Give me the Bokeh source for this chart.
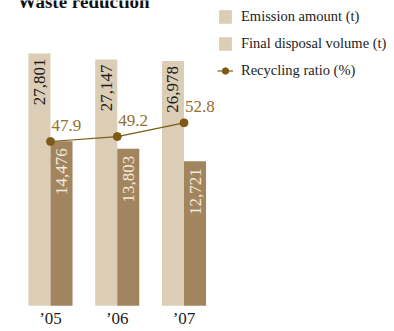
import numpy as np
from bokeh.plotting import figure
from bokeh.models import Range1d, ColumnDataSource, Legend, LegendItem, Label
from bokeh.core.properties import value
from bokeh.embed import file_html
from bokeh.resources import INLINE

# ---- data ----
years = ["\u201905", "\u201906", "\u201907"]
emission = [27801, 27147, 26978]          # Emission amount (t)
disposal = [14476, 13803, 12721]          # Final disposal volume (t)
recycling = [47.9, 49.2, 52.8]            # Recycling ratio (%)

LIGHT = "#DCCDB6"
DARK = "#A2855E"
LINE = "#7E5A16"
LTEXT = "#936E2C"
FONT = "Liberation Serif"

idx = np.arange(len(years), dtype=float)
bw = 0.33

src = ColumnDataSource(dict(
    idx=idx,
    xl=idx - bw / 2,
    xd=idx + bw / 2,
    emission=emission,
    disposal=disposal,
    recycling=recycling,
    years=years,
    el=[f"{v:,}" for v in emission],
    dl=[f"{v:,}" for v in disposal],
    rl=[f"{v:.1f}" for v in recycling],
))

W, H = 394, 331
unit = 66.75
x0 = -50 / unit
k1 = 0.009075   # px per t (emission)
k2 = 0.01137    # px per t (disposal)
k3 = 3.816      # px per %
base = 305.3
zero3 = 323.8

p = figure(width=W, height=H, output_backend="svg", toolbar_location=None,
           x_range=Range1d(x0, x0 + W / unit),
           y_range=Range1d(-(H - base) / k1, base / k1),
           min_border=0, outline_line_color=None)
p.extra_y_ranges = {
    "dark": Range1d(-(H - base) / k2, base / k2),
    "ratio": Range1d(-(H - zero3) / k3, zero3 / k3),
}
p.axis.visible = False
p.grid.visible = False
p.background_fill_color = "white"
p.border_fill_color = "white"

r_light = p.vbar(x="xl", top="emission", bottom=0, width=bw, source=src,
                 fill_color=LIGHT, line_color=None)
r_dark = p.vbar(x="xd", top="disposal", bottom=0, width=bw, source=src,
                fill_color=DARK, line_color=None, y_range_name="dark")

# bar labels (rotated)
p.text(x="xl", y="emission", text="el", source=src, angle=np.pi / 2,
       text_align="right", text_baseline="middle", y_offset=5,
       text_font=value(FONT), text_font_size="17px", text_color="#1c1c1c")
p.text(x="xd", y="disposal", text="dl", source=src, angle=np.pi / 2,
       text_align="right", text_baseline="middle", y_offset=7,
       text_font=value(FONT), text_font_size="17px", text_color="#F2EADC",
       y_range_name="dark")

# recycling line
r_line = p.line(x="idx", y="recycling", source=src, line_color=LINE,
                line_width=1.2, y_range_name="ratio")
r_dot = p.scatter(x="idx", y="recycling", source=src, size=8,
                  fill_color=LINE, line_color=LINE, y_range_name="ratio")
p.text(x="idx", y="recycling", text="rl", source=src, x_offset=1, y_offset=-16,
       text_align="left", text_baseline="alphabetic",
       text_font=value(FONT), text_font_size="17px", text_color=LTEXT,
       y_range_name="ratio")

# year labels
p.text(x="idx", y=0, text="years", source=src, y_offset=13,
       text_align="center", text_baseline="alphabetic",
       text_font=value(FONT), text_font_size="17px", text_color="#1c1c1c")

# title (cut off at top as in the reference)
p.add_layout(Label(x=17, y=H - 1, x_units="screen", y_units="screen",
                   text="Waste reduction", text_font=FONT,
                   text_font_style="bold", text_font_size="19px",
                   text_color="#111111", text_baseline="alphabetic"))

legend = Legend(items=[
    LegendItem(label="Emission amount (t)", renderers=[r_light]),
    LegendItem(label="Final disposal volume (t)", renderers=[r_light]),
    LegendItem(label="Recycling ratio (%)", renderers=[r_line, r_dot]),
], location=(217, 252), padding=0, margin=0, spacing=10,
    glyph_width=16, glyph_height=17, label_standoff=8,
    label_text_font=FONT, label_text_font_size="14.5px",
    label_text_color="#1c1c1c", border_line_color=None,
    background_fill_alpha=0)
p.add_layout(legend)

open("out.html", "w").write(file_html(p, INLINE))
